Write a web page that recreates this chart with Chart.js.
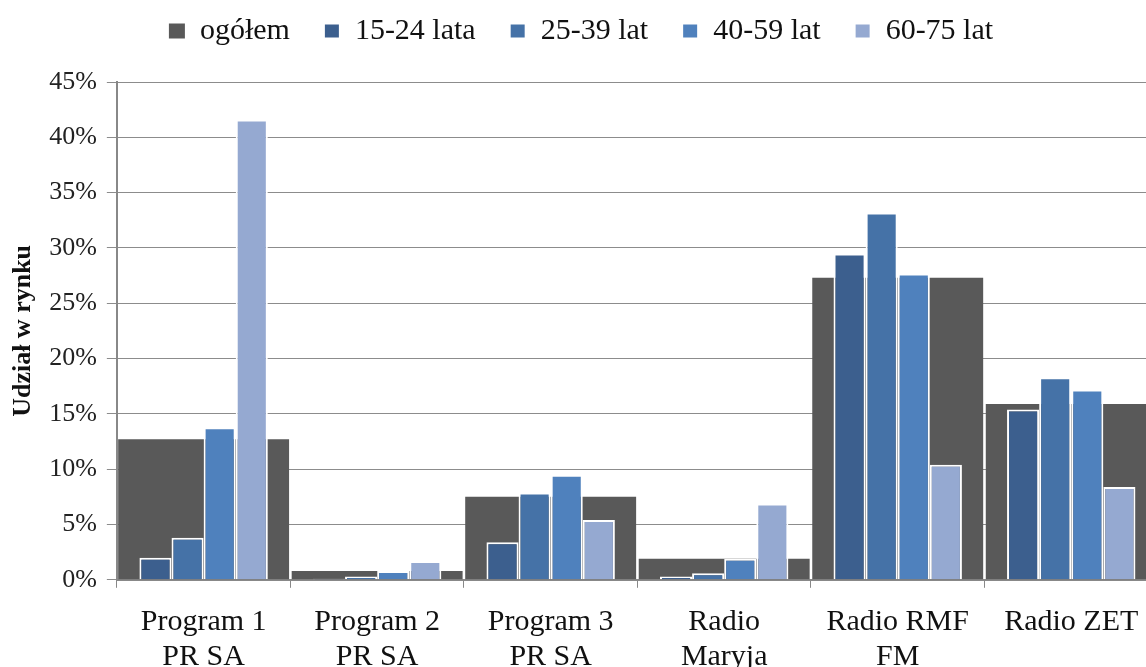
<!DOCTYPE html>
<html>
<head>
<meta charset="utf-8">
<script src="https://cdn.jsdelivr.net/npm/chart.js@4"></script>
<style>
  html, body { margin: 0; padding: 0; background: #fff; overflow: hidden; }
  #wrap { width: 1158px; height: 667px; }
</style>
</head>
<body>
<div id="wrap"><canvas id="chart"></canvas></div>
<script>
const categories = [
    ['Program 1', 'PR SA'],
    ['Program 2', 'PR SA'],
    ['Program 3', 'PR SA'],
    ['Radio', 'Maryja'],
    ['Radio RMF', 'FM'],
    'Radio ZET'
];
const ogolem    = [12.7, 0.8, 7.5, 1.9, 27.3, 15.9];
const lata15_24 = [2.0, 0.1, 3.4, 0.3, 29.5, 15.4];
const lata25_39 = [3.8, 0.3, 7.9, 0.6, 33.2, 18.3];
const lata40_59 = [13.8, 0.8, 9.5, 1.9, 27.7, 17.2];
const lata60_75 = [41.6, 1.7, 5.4, 6.9, 10.4, 8.4];
const yTicks = [0, 5, 10, 15, 20, 25, 30, 35, 40, 45];

const serif = '"Liberation Serif", "Times New Roman", serif';
Chart.defaults.font.family = serif;
Chart.defaults.color = '#111';

function ageSet(label, data, color) {
    return {
        label: label,
        data: data,
        backgroundColor: color,
        borderColor: '#ffffff',
        borderWidth: 2,
        categoryPercentage: 0.74,
        barPercentage: 1,
        order: 0
    };
}

// extra room under the legend
const legendGap = {
    id: 'legendGap',
    beforeInit(chart) {
        const fit = chart.legend.fit;
        chart.legend.fit = function () {
            fit.bind(chart.legend)();
            this.height += 26;
        };
    }
};

const ctx = document.getElementById('chart');

new Chart(ctx, {
    type: 'bar',
    data: {
        labels: categories,
        datasets: [
            {
                label: 'ogółem',
                data: ogolem,
                backgroundColor: '#595959',
                borderWidth: 0,
                grouped: false,
                categoryPercentage: 0.985,
                barPercentage: 1,
                order: 1
            },
            ageSet('15-24 lata', lata15_24, '#3c5f8e'),
            ageSet('25-39 lat', lata25_39, '#4572a7'),
            ageSet('40-59 lat', lata40_59, '#4f81bd'),
            ageSet('60-75 lat', lata60_75, '#95a9d1')
        ]
    },
    plugins: [legendGap],
    options: {
        responsive: true,
        maintainAspectRatio: false,
        animation: false,
        layout: {
            padding: { left: 4, right: 0, top: -18, bottom: -25 }
        },
        plugins: {
            tooltip: { enabled: false },
            legend: {
                position: 'top',
                labels: {
                    color: '#111',
                    font: { family: serif, size: 30 },
                    boxWidth: 16,
                    boxHeight: 15,
                    padding: 34,
                    sort: (a, b) => a.datasetIndex - b.datasetIndex
                }
            }
        },
        scales: {
            x: {
                offset: true,
                grid: {
                    offset: true,
                    drawOnChartArea: false,
                    color: '#888',
                    tickLength: 8
                },
                border: { color: '#888', width: 2 },
                ticks: {
                    color: '#111',
                    padding: 17,
                    maxRotation: 0,
                    autoSkip: false,
                    font: { family: serif, size: 30, lineHeight: 1.17 }
                }
            },
            y: {
                min: 0,
                max: 45,
                afterBuildTicks: (scale) => {
                    scale.ticks = yTicks.map(v => ({ value: v }));
                },
                grid: {
                    color: '#8c8c8c',
                    tickLength: 10
                },
                border: { color: '#888', width: 2 },
                ticks: {
                    color: '#222',
                    padding: 10,
                    font: { family: serif, size: 26 },
                    callback: (v) => v + '%'
                },
                title: {
                    display: true,
                    text: 'Udział w rynku',
                    color: '#111',
                    padding: { top: 4, bottom: 0 },
                    font: { family: serif, size: 26, weight: 'bold' }
                }
            }
        }
    }
});
</script>
</body>
</html>
